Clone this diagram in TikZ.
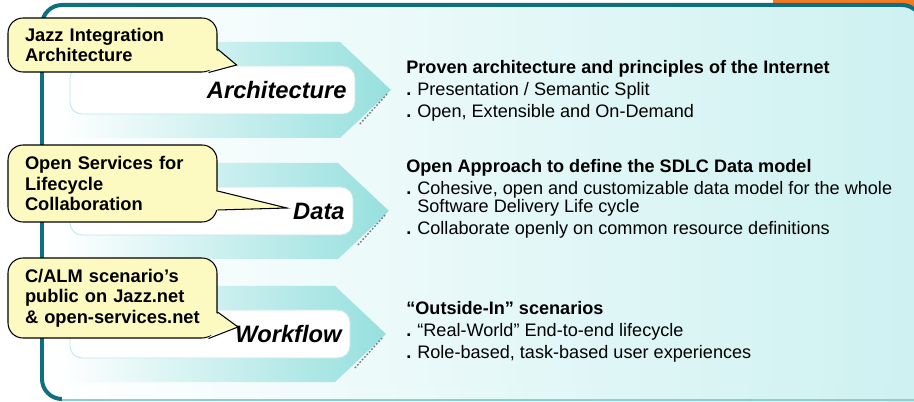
\documentclass[tikz,border=0pt]{standalone}
\usepackage{fontspec}
\setmainfont{Liberation Sans}
\definecolor{jzTeal}{HTML}{0E6F80}
\definecolor{jzPanel}{HTML}{CEF1F1}
\definecolor{jzArrow}{HTML}{96E0DE}
\definecolor{jzEdge}{HTML}{BFE8EC}
\definecolor{jzNote}{HTML}{FCFAC0}
\definecolor{jzOrange}{HTML}{F47A20}
\definecolor{jzBottom}{HTML}{8ACFD2}
\usetikzlibrary{calc}

\tikzset{
  notebox/.style={draw=black, line width=0.6pt, fill=jzNote, rounded corners=0.3cm,
    text width=3.5cm, inner xsep=0.34cm, inner ysep=0pt, align=left,
    font=\fontsize{10.4}{11.7}\selectfont\bfseries},
  notetail/.style={draw=black, line width=0.6pt},
  tagtext/.style={anchor=east, inner sep=0pt, font=\fontsize{13.5}{16}\selectfont\bfseries\itshape},
  pointtext/.style={anchor=north west, inner sep=0pt, align=left, font=\fontsize{10.3}{10.2}\selectfont},
  shadowdash/.style={gray, line width=0.8pt, dash pattern=on 1pt off 1pt},
}
\newcommand{\dotitem}[1]{\makebox[0.22cm][l]{\textbf{.}}#1}

\begin{document}
\begin{tikzpicture}[x=0.02cm, y=-0.02cm]
  \useasboundingbox (0,0) rectangle (914,402);
  % orange tab behind the frame
  \fill[jzOrange] (773,0) rectangle (914,6);
  % main panel
  \path[draw=jzTeal, line width=0.08cm, rounded corners=0.4cm,
    left color=white, middle color=jzPanel!45, right color=jzPanel] (42,5) rectangle (922,399);
  \fill[left color=white, right color=jzPanel] (62,384) rectangle (914,402);
  \draw[jzBottom, line width=0.04cm] (62,400) -- (914,400);

  % chevrons with their tags
  \foreach \cy/\tx/\lbl/\nm in {90/391/Architecture/arch, 211/389/Data/data, 334/386/Workflow/flow}{
    \shade[left color=white, right color=jzArrow]
      (60,\cy-48) -- (\tx-51,\cy-48) -- (\tx,\cy) -- (\tx-51,\cy+48) -- (60,\cy+48) -- cycle;
    \draw[jzEdge, fill=white, line width=0.5pt, rounded corners=0.24cm] (70,\cy-24) rectangle (\tx-36,\cy+24);
    \node[tagtext] (\nm) at (\tx-44,\cy) {\lbl};
    \draw[shadowdash] (\tx-4,\cy+4) -- (\tx-32,\cy+35);
  }

  % callouts
  \node[notebox, minimum height=1.08cm] (jazzNote) at (112.5,45) {Jazz Integration\\Architecture};
  \node[notebox, minimum height=1.54cm] (oslcNote) at (112.5,183.5) {Open Services for\\Lifecycle\\Collaboration};
  \node[notebox, minimum height=1.6cm] (almNote) at (112.5,298) {C/ALM scenario’s\\public on Jazz.net\\\& open-services.net};

  \coordinate (jazzTip) at ($(arch.west)+(30,-25)$);
  \coordinate (oslcTip) at ($(data.west)+(-6,-3)$);
  \coordinate (almTip) at ($(flow.west)+(3,-7)$);

  \fill[jzNote] ($(jazzNote.east)+(-3,4)$) -- (jazzTip) -- ($(jazzNote.south east)+(-11,-2)$) -- cycle;
  \draw[notetail] ($(jazzNote.east)+(0,4)$) -- (jazzTip) -- ($(jazzNote.south east)+(-9,0)$);
  \fill[jzNote] ($(oslcNote.east)+(-3,7.5)$) -- (oslcTip) -- ($(oslcNote.east)+(-3,26.5)$) -- cycle;
  \draw[notetail] ($(oslcNote.east)+(0,7.5)$) -- (oslcTip) -- ($(oslcNote.east)+(0,26.5)$);
  \fill[jzNote] ($(almNote.east)+(-3,14)$) -- (almTip) -- ($(almNote.south east)+(-11,-2)$) -- cycle;
  \draw[notetail] ($(almNote.east)+(0,14)$) -- (almTip) -- ($(almNote.south east)+(-9,0)$);

  % points on the right
  \node[pointtext] (archPoints) at (406,60) {\textbf{Proven architecture and principles of the Internet}\\[2.3pt]
    \dotitem{Presentation / Semantic Split}\\[2.3pt]
    \dotitem{Open, Extensible and On-Demand}};
  \node[pointtext] (dataPoints) at (406,159) {\textbf{Open Approach to define the SDLC Data model}\\[2.3pt]
    \dotitem{Cohesive, open and customizable data model for the whole}\\
    \hspace*{0.22cm}Software Delivery Life cycle\\[2.3pt]
    \dotitem{Collaborate openly on common resource definitions}};
  \node[pointtext] (flowPoints) at (406,301) {\textbf{“Outside-In” scenarios}\\[2.3pt]
    \dotitem{“Real-World” End-to-end lifecycle}\\[2.3pt]
    \dotitem{Role-based, task-based user experiences}};
\end{tikzpicture}
\end{document}
